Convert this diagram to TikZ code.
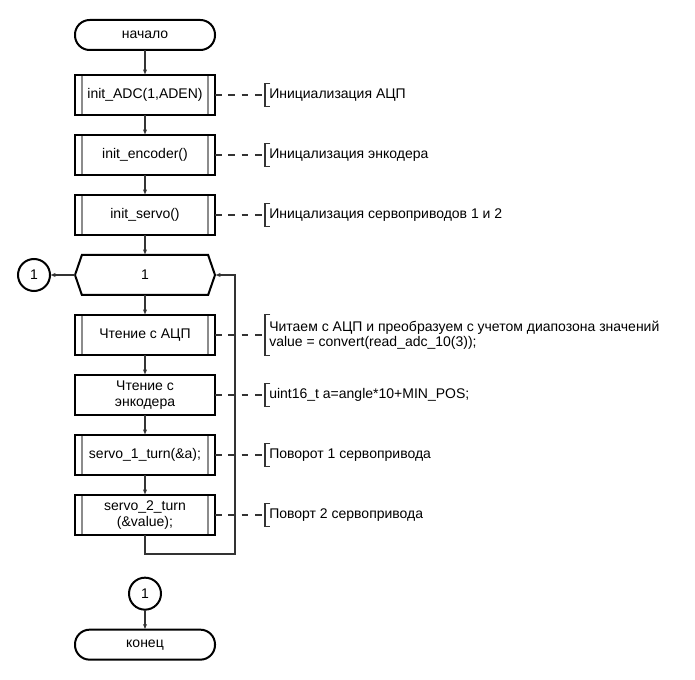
\documentclass[tikz,border=0pt]{standalone}
\usepackage{fontspec}
\setmainfont{Liberation Sans}
\usetikzlibrary{positioning,arrows.meta,shapes.symbols,calc}
\definecolor{wire}{HTML}{333333}
\definecolor{bar}{HTML}{8C8C8C}

\begin{document}
\begin{tikzpicture}[
  x=0.75pt, y=-0.75pt,
  >={Latex[length=4pt,width=3.2pt]},
  every node/.style={font=\fontsize{10.5}{11.5}\selectfont},
  blk/.style={draw, line width=1.5pt, outer sep=0pt, minimum width=105pt, minimum height=30pt, align=center, inner sep=2pt},
  term/.style={blk, rounded corners=11pt, minimum height=22.5pt},
  proc/.style={blk, path picture={
      \draw[bar, line width=1.4pt] ([xshift=5.3pt]path picture bounding box.north west) -- ([xshift=5.3pt]path picture bounding box.south west);
      \draw[bar, line width=1.4pt] ([xshift=-5.3pt]path picture bounding box.north east) -- ([xshift=-5.3pt]path picture bounding box.south east);}},
  hexa/.style={blk, signal, signal to=west and east, signal pointer angle=142},
  conn/.style={draw, circle, line width=1.5pt, outer sep=0pt, minimum size=24pt, inner sep=0pt},
  note/.style={anchor=west, minimum height=16.5pt, align=left, inner xsep=3pt, inner ysep=0pt},
  brk/.style={draw=wire, line width=1.1pt},
  arr/.style={->, draw=wire, line width=1.1pt},
  lnk/.style={draw=wire, line width=1.1pt, dash pattern=on 5pt off 5pt}
]
  \useasboundingbox (0,0) rectangle (695,680);

  % main chain
  \node[term] (start) at (145,35) {начало};
  \node[proc, below=18.75pt of start] (adc) {init\_ADC(1,ADEN)};
  \node[proc, below=15pt of adc] (enc) {init\_encoder()};
  \node[proc, below=15pt of enc] (srv) {init\_servo()};
  \node[hexa, below=15pt of srv] (loop) {1};
  \node[proc, below=15pt of loop] (rdadc) {Чтение с АЦП};
  \node[blk, below=15pt of rdadc] (rdenc) {Чтение с\\энкодера};
  \node[proc, below=15pt of rdenc] (turn1) {servo\_1\_turn(\&a);};
  \node[proc, below=15pt of turn1] (turn2) {servo\_2\_turn\\(\&value);};
  \node[conn, left=18.75pt of loop] (exitA) {1};
  \node[conn, below=32pt of turn2] (exitB) {1};
  \node[term, below=15pt of exitB] (stop) {конец};

  % comments
  \node[note, right=37.5pt of adc] (cadc) {Инициализация АЦП};
  \node[note, right=37.5pt of enc] (cenc) {Иницализация энкодера};
  \node[note, right=37.5pt of srv] (csrv) {Иницализация сервоприводов 1 и 2};
  \node[note, right=37.5pt of rdadc, minimum height=30pt] (crd) {Читаем с АЦП и преобразуем с учетом диапозона значений\\value = convert(read\_adc\_10(3));};
  \node[note, right=37.5pt of rdenc] (cang) {uint16\_t a=angle*10+MIN\_POS;};
  \node[note, right=37.5pt of turn1] (ct1) {Поворот 1 сервопривода};
  \node[note, right=37.5pt of turn2] (ct2) {Поворт 2 сервопривода};

  \draw[arr] (start) -- (adc);
  \draw[arr] (adc) -- (enc);
  \draw[arr] (enc) -- (srv);
  \draw[arr] (srv) -- (loop);
  \draw[arr] (loop) -- (rdadc);
  \draw[arr] (rdadc) -- (rdenc);
  \draw[arr] (rdenc) -- (turn1);
  \draw[arr] (turn1) -- (turn2);
  \draw[arr] (loop) -- (exitA);
  \draw[arr] (exitB) -- (stop);
  \coordinate[right=15pt of loop.east] (back);
  \draw[arr] (turn2.south) -- ++(0,19) -| (back) -- (loop.east);

  \foreach \b/\c in {adc/cadc, enc/cenc, srv/csrv, rdadc/crd, rdenc/cang, turn1/ct1, turn2/ct2}{
    \draw[lnk] (\b.east) -- (\c.west);
    \draw[brk] ([xshift=4pt]\c.north west) -- (\c.north west) -- (\c.south west) -- ([xshift=4pt]\c.south west);
  }
\end{tikzpicture}
\end{document}
